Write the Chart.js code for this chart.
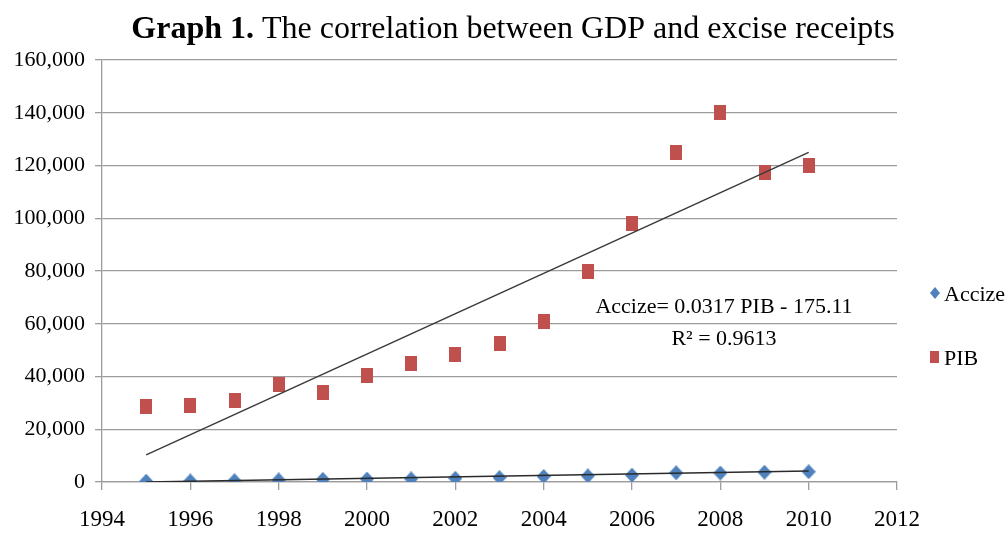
<!DOCTYPE html>
<html>
<head>
<meta charset="utf-8">
<script src="https://cdn.jsdelivr.net/npm/chart.js@4/dist/chart.umd.min.js"></script>
<style>
  html, body { margin: 0; padding: 0; background: #fff; }
  #wrap { width: 1008px; height: 533px; }
</style>
</head>
<body>
<div id="wrap"><canvas id="chart" width="1008" height="533"></canvas></div>
<script>
/* data */
const years = [1995, 1996, 1997, 1998, 1999, 2000, 2001, 2002, 2003, 2004, 2005, 2006, 2007, 2008, 2009, 2010];
const pib = [28500, 29000, 31000, 37000, 34000, 40500, 45000, 48500, 52500, 61000, 80000, 98000, 125000, 140000, 117500, 120000];
const accize = [300, 400, 500, 800, 1000, 1100, 1200, 1400, 1700, 2100, 2300, 2600, 3500, 3400, 3700, 3900];

/* trendline end points (as drawn by the original) */
const trendYears = [1995, 2010];
const pibTrend = [10300, 125000];
const accizeTrend = [0, 4200];

const FONT = "'Liberation Serif', 'Times New Roman', serif";
const GRID = '#9c9c9c';
const BLUE = '#4F81BD';
const RED = '#C0504D';

const toPoints = (xs, ys) => xs.map((x, i) => ({ x, y: ys[i] }));

// Excel-like markers: slightly tall square and diamond
function markerRect(w, h, color) {
  const cv = document.createElement('canvas');
  cv.width = w; cv.height = h;
  const c = cv.getContext('2d');
  c.fillStyle = color;
  c.fillRect(0, 0, w, h);
  return cv;
}
function markerDiamond(w, h, color) {
  const cv = document.createElement('canvas');
  cv.width = w; cv.height = h;
  const c = cv.getContext('2d');
  c.fillStyle = color;
  c.beginPath();
  c.moveTo(w / 2, 0); c.lineTo(w, h / 2); c.lineTo(w / 2, h); c.lineTo(0, h / 2);
  c.closePath(); c.fill();
  return cv;
}

/* ── titel, legende, gleichung ── */
const overlay = {
  id: 'overlay',
  afterDraw(chart) {
    const c = chart.ctx;
    c.save();
    c.fillStyle = '#000';
    c.textBaseline = 'alphabetic';

    // title: bold part + regular part, centred
    const boldTxt = 'Graph 1.';
    const restTxt = ' The correlation between GDP and excise receipts';
    c.font = 'bold 32px ' + FONT;
    const wb = c.measureText(boldTxt).width;
    c.font = '32px ' + FONT;
    const wr = c.measureText(restTxt).width;
    const x0 = 513 - (wb + wr) / 2;
    c.textAlign = 'left';
    c.font = 'bold 32px ' + FONT;
    c.fillText(boldTxt, x0, 38);
    c.font = '32px ' + FONT;
    c.fillText(restTxt, x0 + wb, 38);

    // regression text
    c.font = '22px ' + FONT;
    c.textAlign = 'center';
    c.fillText('Accize= 0.0317 PIB - 175.11', 724, 313);
    c.fillText('R\u00B2 = 0.9613', 724, 345);

    // legend
    c.textAlign = 'left';
    c.fillStyle = BLUE;
    c.beginPath();
    c.moveTo(935, 287); c.lineTo(940, 293); c.lineTo(935, 299); c.lineTo(930, 293);
    c.closePath(); c.fill();
    c.fillStyle = RED;
    c.fillRect(930, 351, 9, 12);
    c.fillStyle = '#000';
    c.fillText('Accize', 944, 301);
    c.fillText('PIB', 944, 365);
    c.restore();
  }
};

new Chart(document.getElementById('chart'), {
  type: 'scatter',
  data: {
    datasets: [
      {
        label: 'PIB trend',
        data: toPoints(trendYears, pibTrend),
        showLine: true,
        borderColor: '#3a3a3a',
        borderWidth: 1.5,
        pointRadius: 0,
        order: 0
      },
      {
        label: 'Accize trend',
        data: toPoints(trendYears, accizeTrend),
        showLine: true,
        borderColor: '#2a2a2a',
        borderWidth: 1.5,
        pointRadius: 0,
        order: 0
      },
      {
        label: 'Accize',
        data: toPoints(years, accize),
        pointStyle: markerDiamond(14, 15, BLUE),
        pointRadius: 7,
        backgroundColor: BLUE,
        borderColor: BLUE,
        borderWidth: 0,
        order: 1
      },
      {
        label: 'PIB',
        data: toPoints(years, pib),
        pointStyle: markerRect(12, 15, RED),
        pointRadius: 7,
        backgroundColor: RED,
        borderColor: RED,
        borderWidth: 0,
        order: 1
      }
    ]
  },
  options: {
    responsive: false,
    animation: false,
    layout: { padding: { top: 60, right: 111, bottom: 0, left: 0 } },
    plugins: {
      legend: { display: false },
      title: { display: false },
      tooltip: { enabled: false }
    },
    scales: {
      x: {
        type: 'linear',
        min: 1994,
        max: 2012,
        afterFit: s => { s.height = 51; },
        border: { display: true, color: GRID, width: 1.3 },
        grid: { drawOnChartArea: false, drawTicks: true, tickLength: 8, color: GRID, lineWidth: 1.3 },
        ticks: {
          stepSize: 2,
          padding: 16,
          color: '#000',
          font: { family: FONT, size: 23 },
          callback: v => String(v)
        }
      },
      y: {
        min: 0,
        max: 160000,
        afterFit: s => { s.width = 102; },
        border: { display: true, color: GRID, width: 1.3 },
        grid: { color: GRID, lineWidth: 1.3, tickLength: 7 },
        ticks: {
          stepSize: 20000,
          padding: 10,
          color: '#000',
          font: { family: FONT, size: 22 },
          callback: v => v.toLocaleString('en-US')
        }
      }
    }
  },
  plugins: [overlay]
});
</script>
</body>
</html>
